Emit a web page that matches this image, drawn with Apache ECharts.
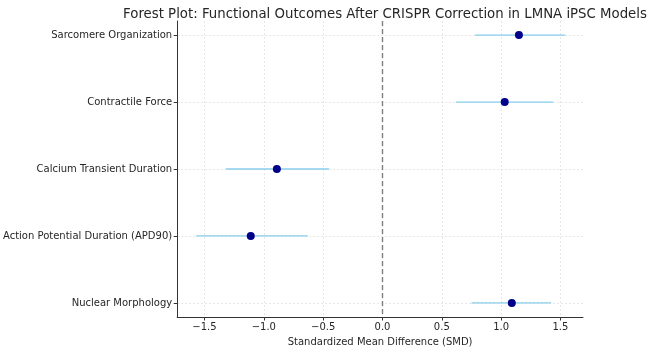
<!DOCTYPE html>
<html>
<head>
<meta charset="utf-8">
<script src="https://cdn.jsdelivr.net/npm/echarts@6/dist/echarts.min.js"></script>
<style>
  html, body { margin: 0; padding: 0; background: #fff; }
  #chart { width: 648px; height: 352px; }
</style>
</head>
<body>
<div id="chart"></div>
<script>
// outcome rows, top to bottom
var outcomes = ['Sarcomere Organization', 'Contractile Force', 'Calcium Transient Duration', 'Action Potential Duration (APD90)', 'Nuclear Morphology'];
var smd = [1.15, 1.03, -0.89, -1.11, 1.09];
var ciLow = [0.78, 0.62, -1.32, -1.57, 0.75];
var ciHigh = [1.54, 1.44, -0.45, -0.63, 1.42];
var xTicks = [-1.5, -1.0, -0.5, 0.0, 0.5, 1.0, 1.5];
var rowTicks = [0, 1, 2, 3, 4];

var chart = echarts.init(document.getElementById('chart'));

var ciData = outcomes.map(function (name, i) { return [ciLow[i], ciHigh[i], i]; });
var pointData = outcomes.map(function (name, i) { return [smd[i], i]; });

var gridLine = { show: true, lineStyle: { color: '#e0e0e0', type: [2, 2], width: 0.8 } };
var fontFamily = 'DejaVu Sans';

var option = {
  animation: false,
  backgroundColor: '#fff',
  textStyle: { fontFamily: fontFamily },
  title: {
    text: 'Forest Plot: Functional Outcomes After CRISPR Correction in LMNA iPSC Models',
    left: 380,
    textAlign: 'center',
    top: 3,
    textStyle: { fontFamily: fontFamily, fontSize: 13.3, fontWeight: 'normal', color: '#262626' }
  },
  grid: { left: 177, right: 65, top: 21, bottom: 32 },
  xAxis: {
    type: 'value',
    min: -1.73,
    max: 1.69,
    name: 'Standardized Mean Difference (SMD)',
    nameLocation: 'middle',
    nameGap: 20,
    nameTextStyle: { fontFamily: fontFamily, fontSize: 10, color: '#262626' },
    axisLine: { onZero: false, lineStyle: { color: '#333', width: 1 } },
    axisTick: { show: true, length: 3.5, customValues: xTicks, lineStyle: { color: '#333' } },
    axisLabel: {
      customValues: xTicks,
      fontSize: 10,
      color: '#262626',
      margin: 5,
      formatter: function (v) { return v.toFixed(1).replace('-', '\u2212'); }
    },
    splitLine: gridLine
  },
  yAxis: {
    type: 'value',
    inverse: true,
    min: -0.21,
    max: 4.21,
    axisLine: { show: true, onZero: false, lineStyle: { color: '#333', width: 1 } },
    axisTick: { show: true, length: 3.5, customValues: rowTicks, lineStyle: { color: '#333' } },
    axisLabel: {
      customValues: rowTicks,
      fontSize: 10,
      color: '#262626',
      margin: 5,
      formatter: function (v) { return outcomes[Math.round(v)]; }
    },
    splitLine: gridLine
  },
  series: [{
    name: 'CI',
    type: 'custom',
    renderItem: function (params, api) {
      var a = api.coord([api.value(0), api.value(2)]);
      var b = api.coord([api.value(1), api.value(2)]);
      return {
        type: 'line',
        shape: { x1: a[0], y1: a[1], x2: b[0], y2: b[1] },
        style: { stroke: '#87ceeb', lineWidth: 1.3 }
      };
    },
    encode: { x: [0, 1], y: 2 },
    data: ciData,
    z: 2
  }, {
    name: 'SMD',
    type: 'scatter',
    symbolSize: 8,
    itemStyle: { color: '#00008b', opacity: 1 },
    data: pointData,
    z: 3,
    markLine: {
      silent: true,
      symbol: 'none',
      label: { show: false },
      lineStyle: { color: '#808080', type: [5, 3], width: 1.4 },
      data: [{ xAxis: 0 }]
    }
  }]
};

chart.setOption(option);
</script>
</body>
</html>
